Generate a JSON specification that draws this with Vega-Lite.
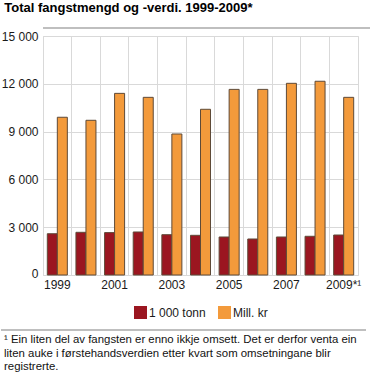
{
  "$schema": "https://vega.github.io/schema/vega-lite/v6.json",
  "padding": {"left": 0, "top": 2, "right": 0, "bottom": 0},
  "title": {"text": "Total fangstmengd og -verdi. 1999-2009*", "anchor": "start", "frame": "bounds", "font": "Liberation Sans", "fontSize": 13, "fontWeight": "bold", "color": "#000000", "dx": 4, "offset": 12},
  "spacing": 0,
  "columns": 1,
  "align": "none",
  "resolve": {"legend": {"color": "independent"}},
  "concat": [
    {
      "width": 358,
      "height": 1,
      "view": {"stroke": null},
      "data": {"values": [{"v": 0}]},
      "mark": {"type": "rule", "color": "#aaaaaa", "strokeWidth": 1.5},
      "encoding": {"y": {"field": "v", "type": "quantitative", "scale": {"domain": [0, 1]}, "axis": null}}
    },
    {
      "width": 315,
      "height": 239,
      "view": {"stroke": "#d9d9d9"},
      "data": {"values": [
        {"year": "1999", "series": "1 000 tonn", "value": 2590},
        {"year": "1999", "series": "Mill. kr", "value": 9900},
        {"year": "2000", "series": "1 000 tonn", "value": 2680},
        {"year": "2000", "series": "Mill. kr", "value": 9710},
        {"year": "2001", "series": "1 000 tonn", "value": 2660},
        {"year": "2001", "series": "Mill. kr", "value": 11400},
        {"year": "2002", "series": "1 000 tonn", "value": 2700},
        {"year": "2002", "series": "Mill. kr", "value": 11150},
        {"year": "2003", "series": "1 000 tonn", "value": 2530},
        {"year": "2003", "series": "Mill. kr", "value": 8850},
        {"year": "2004", "series": "1 000 tonn", "value": 2490},
        {"year": "2004", "series": "Mill. kr", "value": 10400},
        {"year": "2005", "series": "1 000 tonn", "value": 2385},
        {"year": "2005", "series": "Mill. kr", "value": 11650},
        {"year": "2006", "series": "1 000 tonn", "value": 2260},
        {"year": "2006", "series": "Mill. kr", "value": 11650},
        {"year": "2007", "series": "1 000 tonn", "value": 2385},
        {"year": "2007", "series": "Mill. kr", "value": 12030},
        {"year": "2008", "series": "1 000 tonn", "value": 2430},
        {"year": "2008", "series": "Mill. kr", "value": 12160},
        {"year": "2009*¹", "series": "1 000 tonn", "value": 2510},
        {"year": "2009*¹", "series": "Mill. kr", "value": 11150}
      ]},
      "mark": {"type": "bar", "stroke": "#5e4a38", "strokeWidth": 1},
      "encoding": {
        "x": {
          "field": "year", "type": "nominal",
          "scale": {"domain": ["1999","2000","2001","2002","2003","2004","2005","2006","2007","2008","2009*¹"], "paddingInner": 0, "paddingOuter": 0},
          "axis": {"title": null, "bandPosition": 0, "grid": true, "gridColor": "#d9d9d9", "gridWidth": 1, "ticks": false, "domain": false, "labelAngle": 0, "labelDx": 14.3, "labelAlign": "center", "labelPadding": 4,
            "labelExpr": "indexof(['1999','2001','2003','2005','2007','2009*¹'], datum.value) >= 0 ? datum.label : ''"}
        },
        "xOffset": {"field": "series", "type": "nominal", "scale": {"domain": ["1 000 tonn", "Mill. kr"], "paddingInner": 0, "paddingOuter": 0.43}},
        "y": {
          "field": "value", "type": "quantitative",
          "scale": {"domain": [0, 15000]},
          "axis": {"title": null, "values": [0, 3000, 6000, 9000, 12000, 15000], "ticks": false, "domain": false, "labelPadding": 5, "labelFlush": true, "labelFlushOffset": 5, "gridColor": "#d9d9d9", "gridWidth": 1,
            "labelExpr": "replace(format(datum.value, ','), ',', ' ')"}
        },
        "color": {
          "field": "series", "type": "nominal",
          "scale": {"domain": ["1 000 tonn", "Mill. kr"], "range": ["#9b1620", "#f39a3b"]},
          "legend": {"title": null, "orient": "bottom", "direction": "horizontal", "symbolType": "square", "symbolSize": 169, "symbolStrokeWidth": 0, "labelFontSize": 12, "labelOffset": 2, "columnPadding": 12, "offset": 7, "padding": 9}
        }
      }
    },
    {
      "width": 323,
      "height": 1,
      "view": {"stroke": null},
      "data": {"values": [{"v": 0}]},
      "mark": {"type": "rule", "color": "#aaaaaa", "strokeWidth": 1.5, "xOffset": -42},
      "encoding": {
        "x": {"datum": 0, "type": "quantitative", "scale": {"domain": [0, 1]}, "axis": null},
        "x2": {"datum": 1},
        "y": {"field": "v", "type": "quantitative", "scale": {"domain": [0, 1]}, "axis": null}
      }
    },
    {
      "width": 323,
      "height": 44,
      "view": {"stroke": null},
      "data": {"values": [{"note": "¹ Ein liten del av fangsten er enno ikkje omsett. Det er derfor venta ein\nliten auke i førstehandsverdien etter kvart som omsetningane blir\nregistrerte."}]},
      "mark": {"type": "text", "align": "left", "baseline": "top", "dx": -39, "dy": 3, "fontSize": 11.4, "lineHeight": 13.5, "lineBreak": "\n", "color": "#111111", "font": "Liberation Sans"},
      "encoding": {
        "text": {"field": "note"},
        "x": {"datum": 0, "type": "quantitative", "scale": {"domain": [0, 1]}, "axis": null},
        "y": {"datum": 1, "type": "quantitative", "scale": {"domain": [0, 1]}, "axis": null}
      }
    }
  ],
  "config": {
    "font": "Liberation Sans",
    "view": {"stroke": null},
    "axis": {"labelFont": "Liberation Sans", "labelFontSize": 12, "labelColor": "#1a1a1a"},
    "legend": {"labelFont": "Liberation Sans", "labelColor": "#1a1a1a", "layout": {"bottom": {"anchor": "middle"}}}
  }
}
